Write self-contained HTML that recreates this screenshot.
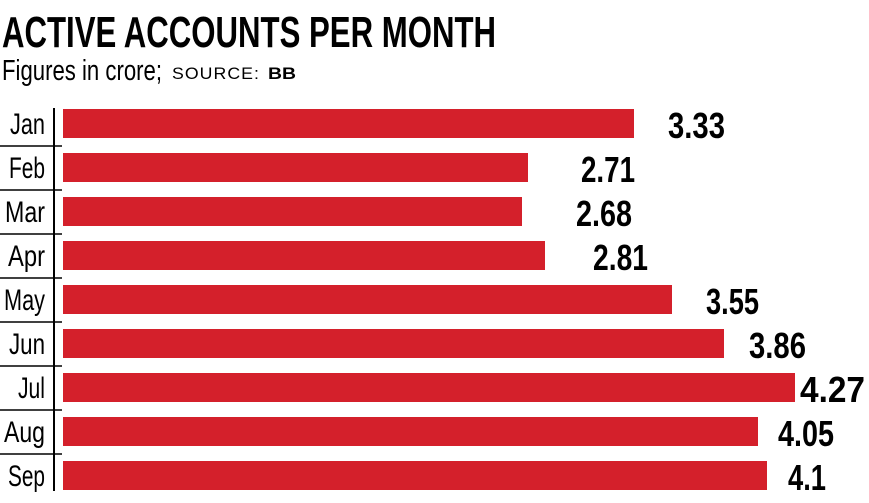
<!DOCTYPE html>
<html><head><meta charset="utf-8"><style>
html,body{margin:0;padding:0;background:#fff;width:869px;height:503px;overflow:hidden}
svg{display:block}
text{font-family:"Liberation Sans Narrow","Liberation Sans",sans-serif}
</style></head><body>
<svg width="869" height="503" viewBox="0 0 869 503">
<text x="2" y="47" font-size="44" font-weight="bold" textLength="494" lengthAdjust="spacingAndGlyphs">ACTIVE ACCOUNTS PER MONTH</text>
<text x="2" y="80" font-size="29" textLength="160" lengthAdjust="spacingAndGlyphs">Figures in crore;</text>
<text x="172" y="79" font-size="17" letter-spacing="1" textLength="88" lengthAdjust="spacingAndGlyphs">SOURCE:</text>
<text x="268" y="79" font-size="17" font-weight="bold" textLength="28" lengthAdjust="spacingAndGlyphs">BB</text>
<line x1="54" y1="108" x2="54" y2="491" stroke="#000" stroke-width="2"/>
<g stroke="#000" stroke-width="1.5">
<line x1="0" y1="146" x2="62" y2="146"/><line x1="0" y1="190" x2="62" y2="190"/>
<line x1="0" y1="234" x2="62" y2="234"/><line x1="0" y1="278" x2="62" y2="278"/>
<line x1="0" y1="322" x2="62" y2="322"/><line x1="0" y1="366" x2="62" y2="366"/>
<line x1="0" y1="410" x2="62" y2="410"/><line x1="0" y1="454" x2="62" y2="454"/>
</g>
<g fill="#d4202b">
<rect x="63" y="109" width="571" height="29"/>
<rect x="63" y="153" width="465" height="29"/>
<rect x="63" y="197" width="459" height="29"/>
<rect x="63" y="241" width="482" height="29"/>
<rect x="63" y="285" width="609" height="29"/>
<rect x="63" y="329" width="661" height="29"/>
<rect x="63" y="373" width="732" height="29"/>
<rect x="63" y="417" width="695" height="29"/>
<rect x="63" y="461" width="704" height="29"/>
</g>
<g font-size="30">
<text x="10" y="134" textLength="35" lengthAdjust="spacingAndGlyphs">Jan</text>
<text x="9" y="178" textLength="36" lengthAdjust="spacingAndGlyphs">Feb</text>
<text x="5" y="222" textLength="40" lengthAdjust="spacingAndGlyphs">Mar</text>
<text x="8" y="266" textLength="37" lengthAdjust="spacingAndGlyphs">Apr</text>
<text x="4" y="310" textLength="41" lengthAdjust="spacingAndGlyphs">May</text>
<text x="9" y="354" textLength="36" lengthAdjust="spacingAndGlyphs">Jun</text>
<text x="18" y="398" textLength="27" lengthAdjust="spacingAndGlyphs">Jul</text>
<text x="4" y="442" textLength="41" lengthAdjust="spacingAndGlyphs">Aug</text>
<text x="8" y="486" textLength="37" lengthAdjust="spacingAndGlyphs">Sep</text>
</g>
<g font-size="36" font-weight="bold">
<text x="668" y="138" textLength="57" lengthAdjust="spacingAndGlyphs">3.33</text>
<text x="581" y="182" textLength="54" lengthAdjust="spacingAndGlyphs">2.71</text>
<text x="576" y="226" textLength="56" lengthAdjust="spacingAndGlyphs">2.68</text>
<text x="593" y="270" textLength="55" lengthAdjust="spacingAndGlyphs">2.81</text>
<text x="706" y="314" textLength="53" lengthAdjust="spacingAndGlyphs">3.55</text>
<text x="749" y="358" textLength="57" lengthAdjust="spacingAndGlyphs">3.86</text>
<text x="800" y="402" textLength="65" lengthAdjust="spacingAndGlyphs">4.27</text>
<text x="778" y="446" textLength="56" lengthAdjust="spacingAndGlyphs">4.05</text>
<text x="788" y="490" textLength="38" lengthAdjust="spacingAndGlyphs">4.1</text>
</g>
</svg>
</body></html>
